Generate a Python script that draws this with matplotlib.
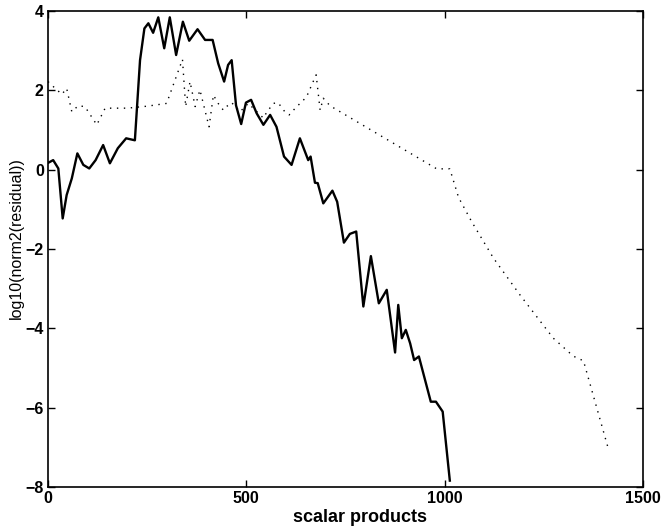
import matplotlib
matplotlib.use("Agg")
import matplotlib.pyplot as plt

plt.rcParams['font.family'] = ['Liberation Sans', 'DejaVu Sans']

# residual history, method 1 (solid)
x_solid = [0, 13, 26, 37, 47, 60, 74, 89, 104, 120, 139, 156, 176, 197, 219,
           232, 243, 253, 265, 278, 293, 307, 323, 340, 356, 377, 396, 415,
           429, 444, 454, 463, 474, 487, 499, 512, 526, 543, 560, 576, 595,
           614, 635, 656, 662, 673, 680, 694, 717, 729, 746, 761, 777, 795,
           814, 834, 854, 875, 883, 892, 902, 913, 923, 935, 950, 965, 978,
           995, 1013]
y_solid = [0.17, 0.24, 0.03, -1.23, -0.64, -0.22, 0.41, 0.12, 0.03, 0.24, 0.62,
           0.16, 0.54, 0.79, 0.74, 2.76, 3.56, 3.69, 3.45, 3.84, 3.06, 3.84,
           2.89, 3.73, 3.25, 3.54, 3.27, 3.27, 2.68, 2.22, 2.64, 2.76, 1.62,
           1.15, 1.69, 1.76, 1.42, 1.13, 1.38, 1.08, 0.33, 0.12, 0.79, 0.24,
           0.33, -0.33, -0.34, -0.85, -0.53, -0.81, -1.84, -1.62, -1.56, -3.45,
           -2.18, -3.37, -3.03, -4.61, -3.41, -4.25, -4.04, -4.38, -4.80, -4.71,
           -5.28, -5.85, -5.85, -6.10, -7.84]

# residual history, method 2 (dotted)
x_dot = [0, 18, 35, 47, 60, 76, 93, 123, 144, 200, 250, 299, 339, 347, 358,
         371, 383, 406, 417, 429, 442, 450, 463, 484, 505, 543, 551, 568, 580,
         597, 608, 627, 640, 652, 665, 676, 686, 694, 711, 980, 1013, 1035,
         1068, 1123, 1190, 1274, 1324, 1350, 1413]
y_dot = [2.22, 2.05, 1.90, 2.05, 1.46, 1.61, 1.59, 1.13, 1.55, 1.55, 1.60, 1.67,
         2.78, 1.59, 2.22, 1.59, 2.01, 1.08, 1.88, 1.67, 1.50, 1.59, 1.69, 1.46,
         1.67, 1.30, 1.44, 1.67, 1.69, 1.46, 1.38, 1.59, 1.71, 1.84, 2.14, 2.39,
         1.50, 1.80, 1.61, 0.02, 0.02, -0.70, -1.31, -2.23, -3.16, -4.25, -4.70,
         -4.82, -7.05]

fig = plt.figure(figsize=(6.65, 5.28), dpi=100)
ax = fig.add_axes([0.0722, 0.0777, 0.8947, 0.9015])

ax.plot(x_solid, y_solid, color='black', linewidth=1.7)
ax.plot(x_dot, y_dot, color='black', linewidth=1.0, linestyle=(0, (1, 4)))

ax.set_xlim(0, 1500)
ax.set_ylim(-8, 4)
ax.set_xticks([0, 500, 1000, 1500])
ax.set_yticks([-8, -6, -4, -2, 0, 2, 4])
ax.tick_params(direction='in', length=5, width=1, top=True, right=True,
               labelsize=11.5, pad=3)
for lab in ax.get_xticklabels() + ax.get_yticklabels():
    lab.set_fontweight('bold')
for s in ax.spines.values():
    s.set_linewidth(1.2)

ax.set_xlabel('scalar products', fontsize=13, fontweight='bold')
ax.xaxis.set_label_coords(0.524, -0.047)
ax.set_ylabel('log10(norm2(residual))', fontsize=11.5)
ax.yaxis.set_label_coords(-0.040, 0.523)

fig.savefig('out.png', dpi=100)
